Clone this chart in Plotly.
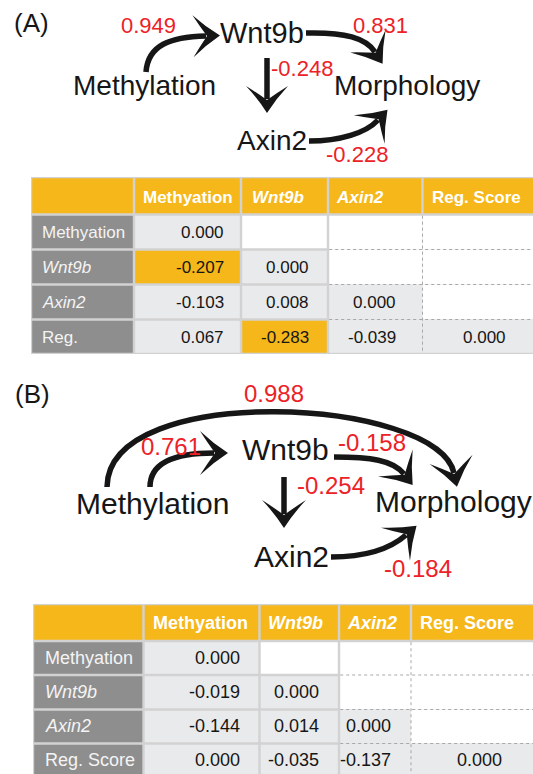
import plotly.graph_objects as go

# ---------------- data ----------------
nodes = ["Methylation", "Wnt9b", "Axin2", "Morphology"]

edges_A = [("Methylation", "Wnt9b"), ("Wnt9b", "Morphology"),
           ("Wnt9b", "Axin2"), ("Axin2", "Morphology")]
coef_A = [0.949, 0.831, -0.248, -0.228]

edges_B = [("Methylation", "Morphology"), ("Methylation", "Wnt9b"),
           ("Wnt9b", "Morphology"), ("Wnt9b", "Axin2"), ("Axin2", "Morphology")]
coef_B = [0.988, 0.761, -0.158, -0.254, -0.184]

col_labels = ["Methyation", "Wnt9b", "Axin2", "Reg. Score"]
row_labels_A = ["Methyation", "Wnt9b", "Axin2", "Reg."]
row_labels_B = ["Methyation", "Wnt9b", "Axin2", "Reg. Score"]
italic_labels = ["Wnt9b", "Axin2"]

values_A = [[0.000, None, None, None],
            [-0.207, 0.000, None, None],
            [-0.103, 0.008, 0.000, None],
            [0.067, -0.283, -0.039, 0.000]]
values_B = [[0.000, None, None, None],
            [-0.019, 0.000, None, None],
            [-0.144, 0.014, 0.000, None],
            [0.000, -0.035, -0.137, 0.000]]
highlight_A = [(1, 0), (3, 1)]
highlight_B = []

# ---------------- style / layout ----------------
W, H = 533, 774
FONT = "Liberation Sans, Arial, Helvetica, sans-serif"
ORANGE = "#F5B719"
DARK = "#8E8E8E"
LIGHT = "#E9EAEB"
GRID = "#D2D2D2"
RED = "#EC2227"
INK = "#161616"

panel_A = dict(
    tag="(A)", tag_xy=(31, 23),
    node_xy={"Methylation": (144, 85), "Wnt9b": (262, 33),
             "Axin2": (272, 140), "Morphology": (407, 85)},
    node_size=28, wnt_size=29, coef_size=22, head=(14, 27, 21),
    coef_xy=[(148, 25), (380, 25), (302, 68), (357, 154)],
    geom=[[(146, 72), (148, 45), (170, 37), (206, 36)],
          [(306, 33), (345, 32), (366, 38), (375, 52)],
          [(267, 58), (267, 99)],
          [(309, 141), (340, 141), (366, 133), (378, 120)]],
)
panel_B = dict(
    tag="(B)", tag_xy=(32, 394),
    node_xy={"Methylation": (152, 503), "Wnt9b": (285, 449),
             "Axin2": (291, 556), "Morphology": (453, 501)},
    node_size=30, wnt_size=30, coef_size=24, head=(14, 28, 22),
    coef_xy=[(274, 393), (171, 446), (372, 442), (331, 485), (418, 568)],
    geom=[[(107, 487), (108, 380), (438, 398), (454, 473)],
          [(150, 487), (150, 462), (175, 453), (214, 453)],
          [(334, 457), (370, 457), (393, 460), (404, 474)],
          [(284, 477), (284, 514)],
          [(331, 557), (365, 557), (390, 549), (406, 535)]],
)

table_A = dict(cols=[31, 134, 241, 328, 422.5, 536],
               rows=[177, 214.5, 249.5, 284.5, 319.5, 354], font=17,
               header_y=197, row_y=[232, 267, 302, 337], label_x=40,
               head_x=[(187.5, "center"), (250, "left"), (334, "left"), (430, "left")],
               val_x=[226, 311, 398, 508])
table_B = dict(cols=[33, 143.5, 259.5, 339, 411, 536],
               rows=[604, 641, 675, 709.5, 743.5, 778], font=18,
               header_y=623, row_y=[658, 692, 726, 760], label_x=43,
               head_x=[(200, "center"), (295.5, "center"), (371.5, "center"), (418, "left")],
               val_x=[242, 321, 393, 504])

shapes = []
annotations = []


def pt(p):
    return f"{p[0]:.2f},{p[1]:.2f}"


def add_text(x, y, s, size, color, xanchor="center", bold=False, italic=False):
    if italic:
        s = f"<i>{s}</i>"
    if bold:
        s = f"<b>{s}</b>"
    annotations.append(dict(x=x, y=y, xref="x", yref="y", text=s, showarrow=False,
                            xanchor=xanchor, yanchor="middle",
                            font=dict(family=FONT, size=size, color=color)))


def add_rect(x0, y0, x1, y1, fill):
    shapes.append(dict(type="rect", xref="x", yref="y", x0=x0, y0=y0, x1=x1, y1=y1,
                       fillcolor=fill, line=dict(width=0)))


def add_line(x0, y0, x1, y1, color, width=1, dash="dot"):
    shapes.append(dict(type="line", xref="x", yref="y", x0=x0, y0=y0, x1=x1, y1=y1,
                       line=dict(color=color, width=width, dash=dash)))


def add_edge(g, head):
    N, L, Wd = head
    if len(g) == 2:
        path = f"M{pt(g[0])} L{pt(g[1])}"
        prev = g[0]
    else:
        path = f"M{pt(g[0])} C{pt(g[1])} {pt(g[2])} {pt(g[3])}"
        prev = g[2]
    end = g[-1]
    shapes.append(dict(type="path", xref="x", yref="y", path=path,
                       line=dict(color=INK, width=5.5)))
    dx, dy = end[0] - prev[0], end[1] - prev[1]
    n = (dx * dx + dy * dy) ** 0.5
    dx, dy = dx / n, dy / n
    nx, ny = -dy, dx
    T = (end[0] + N * dx, end[1] + N * dy)

    def P(u, v):
        return (T[0] - u * dx + v * nx, T[1] - u * dy + v * ny)

    B1, B2, E = P(L, Wd), P(L, -Wd), P(N - 1, 0)
    c1, c4 = P(L * 0.5 + 1, Wd * 0.44), P(L * 0.5 + 1, -Wd * 0.44)
    c2, c3 = P((L + N) / 2, Wd * 0.5), P((L + N) / 2, -Wd * 0.5)
    head_path = (f"M{pt(T)} Q{pt(c1)} {pt(B1)} Q{pt(c2)} {pt(E)} "
                 f"Q{pt(c3)} {pt(B2)} Q{pt(c4)} {pt(T)} Z")
    shapes.append(dict(type="path", xref="x", yref="y", path=head_path,
                       fillcolor=INK, line=dict(width=0)))


def draw_panel(p, edges, coefs):
    add_text(p["tag_xy"][0], p["tag_xy"][1], p["tag"], 26, INK)
    for (src, dst), g in zip(edges, p["geom"]):
        add_edge(g, p["head"])
    for name in nodes:
        x, y = p["node_xy"][name]
        size = p["wnt_size"] if name == "Wnt9b" else p["node_size"]
        add_text(x, y, name, size, INK)
    for c, (x, y) in zip(coefs, p["coef_xy"]):
        add_text(x, y, f"{c:.3f}", p["coef_size"], RED)


def draw_table(t, row_labels, values, highlight):
    cols, rows = t["cols"], t["rows"]
    g = 1.2
    add_rect(cols[0], rows[0], cols[-1], rows[-1], GRID)
    # header
    for c in range(5):
        add_rect(cols[c] + g, rows[0] + g, cols[c + 1] - g, rows[1] - g, ORANGE)
    for c, lab in enumerate(col_labels):
        hx, anc = t["head_x"][c]
        add_text(hx, t["header_y"], lab, t["font"], "white", xanchor=anc,
                 bold=True, italic=lab in italic_labels)
    for r in range(4):
        y0, y1 = rows[r + 1], rows[r + 2]
        add_rect(cols[0] + g, y0 + g, cols[1] - g, y1 - g, DARK)
        add_text(t["label_x"], t["row_y"][r], row_labels[r], t["font"], "#F4F4F4",
                 xanchor="left", italic=row_labels[r] in italic_labels)
        for c in range(4):
            v = values[r][c]
            fill = "white" if v is None else (ORANGE if (r, c) in highlight else LIGHT)
            x0, x1 = cols[c + 1], cols[c + 2]
            if c >= 2:
                # dotted-grid region on the right
                il = g if c == 2 else 0
                it = g if r == 0 else 0
                ib = g if r == 3 else 0
                add_rect(x0 + il, y0 + it, x1, y1 - ib, fill)
            else:
                add_rect(x0 + g, y0 + g, x1 - g, y1 - g, fill)
    # dotted separators
    for r in range(1, 4):
        add_line(cols[3] + g, rows[r + 1], cols[-1], rows[r + 1], "#A8A8A8")
    add_line(cols[4], rows[1] + g, cols[4], rows[-1] - g, "#A8A8A8")
    for r in range(4):
        for c in range(4):
            v = values[r][c]
            if v is not None:
                add_text(t["val_x"][c], t["row_y"][r], f"{v:.3f}", t["font"], INK,
                         xanchor="right")


draw_panel(panel_A, edges_A, coef_A)
draw_table(table_A, row_labels_A, values_A, highlight_A)
draw_panel(panel_B, edges_B, coef_B)
draw_table(table_B, row_labels_B, values_B, highlight_B)

fig = go.Figure()
fig.add_trace(go.Scatter(x=[0], y=[0], mode="markers", marker=dict(opacity=0),
                         showlegend=False, hoverinfo="skip"))
fig.update_layout(
    width=W, height=H, margin=dict(l=0, r=0, t=0, b=0),
    paper_bgcolor="white", plot_bgcolor="white",
    xaxis=dict(range=[0, W], visible=False, fixedrange=True),
    yaxis=dict(range=[H, 0], visible=False, fixedrange=True),
    shapes=shapes, annotations=annotations, showlegend=False,
)
fig.write_html("out.html", config={"displayModeBar": False},
               post_script="document.body.style.margin='0';"
                           "document.body.style.overflow='hidden';")
